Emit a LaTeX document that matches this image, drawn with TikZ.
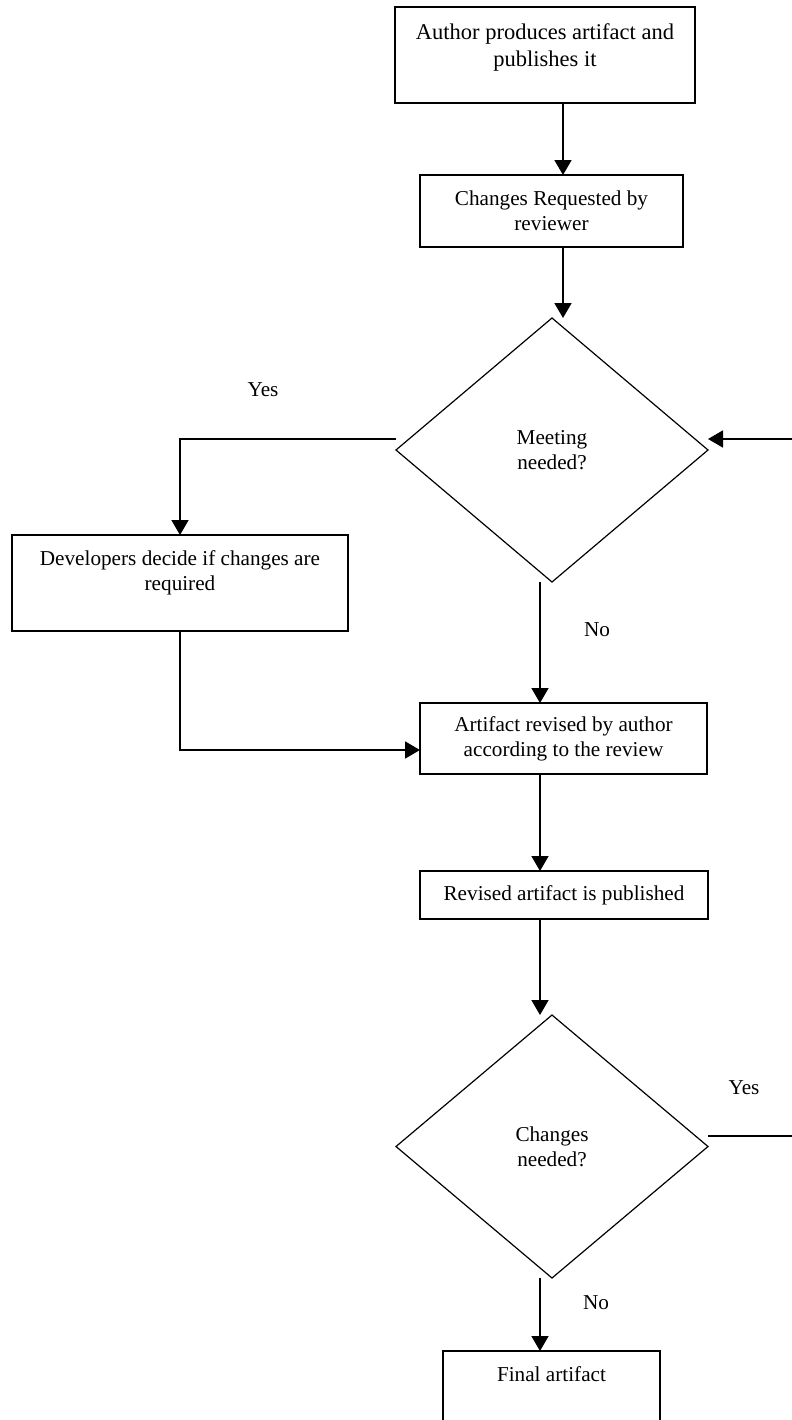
\documentclass[tikz,border=0pt]{standalone}
\usepackage{fontspec}
\setmainfont{Liberation Serif}
\usetikzlibrary{shapes.geometric, arrows.meta, positioning}

\begin{document}
\begin{tikzpicture}[
    x=0.5pt, y=-0.5pt,
    box/.style={draw, line width=0.9pt, align=center, inner sep=0pt, outer sep=0pt, font=\fontsize{10.6}{12.5}\selectfont},
    decision/.style={draw, diamond, line width=0.6pt, align=center, inner sep=0pt, outer sep=0pt, minimum width=156pt, minimum height=132pt, font=\fontsize{10.6}{12.5}\selectfont},
    arr/.style={line width=0.9pt, -{Triangle[length=7.5pt, width=8.5pt]}},
    link/.style={line width=0.9pt},
    lbl/.style={inner sep=0pt, font=\fontsize{10.6}{12.5}\selectfont}
]
    \useasboundingbox (0,0) rectangle (792,1420);
    \clip (0,0) rectangle (792,1420);

    \coordinate (topx) at (563,0);
    \coordinate (spine) at (540,0);
    \coordinate (yesrow) at (0,439);
    \coordinate (bendrow) at (0,750);
    \coordinate (loop) at (800,1136);

    \node[box, minimum width=150pt, minimum height=48pt, font=\fontsize{11.25}{13.5}\selectfont] (author) at (545,55) {Author produces artifact and\\ publishes it\\[-4pt] \mbox{}};
    \node[box, minimum width=131.5pt, minimum height=36pt] (request) at (551.5,211) {Changes Requested by\\ reviewer};
    \node[decision] (meeting) at (552,450) {Meeting\\ needed?};
    \node[box, minimum width=168pt, minimum height=48pt] (devs) at (180,583) {Developers decide if changes are\\ required\\ \mbox{}};
    \node[box, minimum width=143.5pt, minimum height=35.5pt] (revise) at (563.5,738.5) {Artifact revised by author\\ according to the review};
    \node[box, minimum width=144pt, minimum height=24pt] (publish) at (564,895) {Revised artifact is published};
    \node[decision, minimum height=131.5pt] (changes) at (552,1146.5) {Changes\\ needed?};
    \node[box, minimum width=108.5pt, minimum height=48pt] (final) at (551.5,1399) {Final artifact\\ \mbox{}\\ \mbox{}};

    \node[lbl] (yesmeet) at (263,390) {Yes};
    \node[lbl] (nomeet) at (597,630) {No};
    \node[lbl] (yeschange) at (744,1088) {Yes};
    \node[lbl] (nochange) at (596,1303) {No};

    \draw[arr] (author.south -| topx) -- (request.north -| topx);
    \draw[arr] (request.south -| topx) -- (meeting.north -| topx);
    \draw[arr] (meeting.west |- yesrow) -| (devs.north);
    \draw[arr] (devs.south) |- (revise.west |- bendrow);
    \draw[arr] (meeting.south -| spine) -- (revise.north -| spine);
    \draw[arr] (revise.south -| spine) -- (publish.north -| spine);
    \draw[arr] (publish.south -| spine) -- (changes.north -| spine);
    \draw[arr] (changes.south -| spine) -- (final.north -| spine);
    \draw[link] (changes.east |- loop) -- (loop);
    \draw[arr] (loop) |- (meeting.east |- yesrow);
\end{tikzpicture}
\end{document}
